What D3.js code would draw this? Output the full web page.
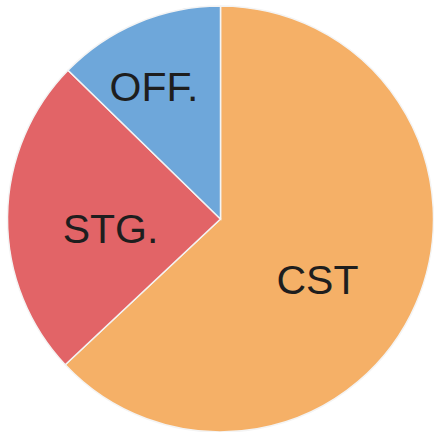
<!DOCTYPE html>
<html lang="en">

<head>
    <meta charset="UTF-8">
    <title>Share pie</title>
    <script src="https://d3js.org/d3.v7.min.js"></script>
    <style>
        body { margin: 0; background: #fff; }
        .slice { stroke: #f4f4f4; stroke-width: 1.5px; }
        .label { font-family: "Liberation Sans", Arial, sans-serif; font-size: 41px; fill: #1e1e1e; }
    </style>
</head>

<body>
    <svg class="pie-chart"></svg>
    <script>
        // Data
        const categories = ["CST", "STG.", "OFF."];
        const values = [63, 24.3, 12.7];
        const colors = ["#f5b067", "#e26467", "#6ea7da"];
        // label nudges in px, relative to the label arc centroid
        const labelNudge = [[-4, 17], [0, 11], [-9, 4]];
        const labelRadius = [110, 110, 148];

        // Dimensions
        const width = 434;
        const height = 432;
        const cx = 220.5, cy = 219;
        const radius = 213;

        const svg = d3.select(".pie-chart")
            .attr("width", width)
            .attr("height", height);

        const g = svg.append("g")
            .attr("transform", `translate(${cx},${cy})`);

        const pie = d3.pie().sort(null).value(d => d.value);
        const arcs = pie(categories.map((c, i) => ({ name: c, value: values[i], color: colors[i] })));

        const arc = d3.arc().innerRadius(0).outerRadius(radius);

        g.selectAll(".slice")
            .data(arcs)
            .join("path")
            .attr("class", "slice")
            .attr("fill", d => d.data.color)
            .attr("d", arc);

        // Labels
        g.selectAll(".label")
            .data(arcs)
            .join("text")
            .attr("class", "label")
            .attr("text-anchor", "middle")
            .attr("dy", "0.35em")
            .attr("transform", (d, i) => {
                const [x, y] = d3.arc().innerRadius(labelRadius[i]).outerRadius(labelRadius[i]).centroid(d);
                return `translate(${x + labelNudge[i][0]},${y + labelNudge[i][1]})`;
            })
            .text(d => d.data.name);
    </script>
</body>

</html>
